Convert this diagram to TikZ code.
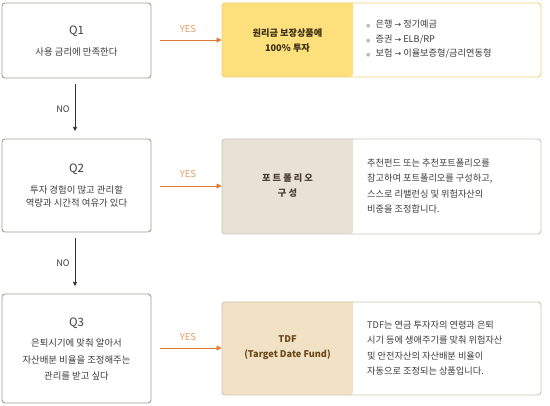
\documentclass[tikz,border=0pt]{standalone}
\usepackage{fontspec}
\setmainfont{Noto Sans CJK KR}
\newfontfamily\symfont{DejaVu Sans}
\usetikzlibrary{arrows.meta,calc}
\definecolor{qgray}{HTML}{A39C94}
\definecolor{txtgray}{HTML}{3C3C3C}
\definecolor{yesorange}{HTML}{E89A62}
\definecolor{arroworange}{HTML}{E07A32}
\definecolor{yelfill}{HTML}{FDE07C}
\definecolor{yelborder}{HTML}{F0CF7A}
\definecolor{begefill}{HTML}{E9E0D6}
\definecolor{begeborder}{HTML}{CFC4B8}
\definecolor{tanfill}{HTML}{F1E2C6}
\definecolor{tanborder}{HTML}{D3C3AC}
\definecolor{headdark}{HTML}{3A2C14}
\definecolor{headgray}{HTML}{4A3C2E}
\definecolor{headbrown}{HTML}{6A4818}
\definecolor{bulletgray}{HTML}{BBBBBB}
\begin{document}
\begin{tikzpicture}[x=1pt,y=-1pt,
  qbox/.style={draw=qgray, line width=0.9pt, rounded corners=3pt, fill=white,
    minimum width=149pt, inner sep=0pt},
  resbox/.style={line width=0.9pt, rounded corners=3pt, fill=white,
    minimum width=319pt, inner sep=0pt},
  qlabel/.style={font=\fontsize{11.5}{13}\selectfont, text=txtgray},
  qtext/.style={font=\fontsize{9.4}{13}\selectfont, text=txtgray, align=center, inner sep=0pt},
  rtext/.style={font=\fontsize{9.2}{15.3}\selectfont, text=txtgray, align=left, inner sep=0pt, anchor=west},
  headtext/.style={font=\fontsize{9.2}{15}\bfseries\selectfont, align=center, inner sep=0pt},
  yesarrow/.style={draw=arroworange, line width=0.8pt, -{Triangle[length=5pt,width=5pt]}},
  noarrow/.style={draw=black!80, line width=0.6pt, -{Triangle[length=4pt,width=4pt]}},
  yeslabel/.style={font=\fontsize{9.5}{11}\selectfont, text=yesorange},
  nolabel/.style={font=\fontsize{9}{10}\selectfont, text=txtgray},
]
\useasboundingbox (0,0) rectangle (550,406);

% Question boxes
\node[qbox, minimum height=75pt] (q1) at (76.5,40.5) {};
\node[qbox, minimum height=93pt] (q2) at (76.5,185.5) {};
\node[qbox, minimum height=109pt] (q3) at (76.5,348.5) {};

\node[qlabel] (q1l) at (76.5,31) {Q1};
\node[qtext] (q1t) at (76.5,52) {사용 금리에 만족한다};
\node[qlabel] (q2l) at (76.5,169) {Q2};
\node[qtext] (q2t) at (76.5,196.5) {투자 경험이 많고 관리할\\역량과 시간적 여유가 있다};
\node[qlabel] (q3l) at (76.5,323) {Q3};
\node[qtext, font=\fontsize{9.4}{16.5}\selectfont] (q3t) at (76.5,359.5) {은퇴시기에 맞춰 알아서\\자산배분 비율을 조정해주는\\관리를 받고 싶다};

% Result boxes
\node[resbox, draw=yelborder, minimum height=74pt,
  path picture={\fill[yelfill] (path picture bounding box.south west) rectangle ++(131pt,100pt);}] (r1) at (381.5,40) {};
\node[resbox, draw=begeborder, minimum height=95pt,
  path picture={\fill[begefill] (path picture bounding box.south west) rectangle ++(131pt,120pt);}] (r2) at (381.5,186.5) {};
\node[resbox, draw=tanborder, minimum height=93pt,
  path picture={\fill[tanfill] (path picture bounding box.south west) rectangle ++(131pt,120pt);}] (r3) at (381.5,348.5) {};

% headings
\node[headtext, text=headdark] (h1) at (287.5,40.5) {원리금 보장상품에\\100\% 투자};
\node[headtext, text=headgray] (h2) at (287.5,186) {포 트 폴 리 오\\구 성};
\node[headtext, text=headbrown] (h3) at (287.5,348) {TDF\\(Target Date Fund)};

% descriptions
\node[rtext, font=\fontsize{9.2}{14.5}\selectfont] (d1) at (366,39.5) {%
  {\color{bulletgray}\symfont\fontsize{5}{5}\selectfont●}\hspace{5pt}은행 {\symfont\fontsize{8}{8}\selectfont→} 정기예금\\
  {\color{bulletgray}\symfont\fontsize{5}{5}\selectfont●}\hspace{5pt}증권 {\symfont\fontsize{8}{8}\selectfont→} ELB/RP\\
  {\color{bulletgray}\symfont\fontsize{5}{5}\selectfont●}\hspace{5pt}보험 {\symfont\fontsize{8}{8}\selectfont→} 이율보증형/금리연동형};
\node[rtext] (d2) at (367,186) {추천펀드 또는 추천포트폴리오를\\참고하여 포트폴리오를 구성하고,\\스스로 리밸런싱 및 위험자산의\\비중을 조정합니다.};
\node[rtext, font=\fontsize{9.2}{15.6}\selectfont] (d3) at (367,348) {TDF는 연금 투자자의 연령과 은퇴\\시기 등에 생애주기를 맞춰 위험자산\\및 안전자산의 자산배분 비율이\\자동으로 조정되는 상품입니다.};

% YES connectors
\coordinate (y1s) at (160,40);
\coordinate (y2s) at (160,186);
\coordinate (y3s) at (160,348);
\draw[yesarrow] (y1s) -- (y1s -| r1.west);
\draw[yesarrow] (y2s) -- (y2s -| r2.west);
\draw[yesarrow] (y3s) -- (y3s -| r3.west);
\node[yeslabel] (yes1) at (188,29) {YES};
\node[yeslabel] (yes2) at (188,174) {YES};
\node[yeslabel] (yes3) at (188,337) {YES};

% NO connectors
\coordinate (n1s) at (75,84);
\coordinate (n1e) at (75,131);
\coordinate (n2s) at (75,238);
\coordinate (n2e) at (75,286);
\draw[noarrow] (n1s) -- (n1e);
\draw[noarrow] (n2s) -- (n2e);
\node[nolabel] (no1) at (63,109) {NO};
\node[nolabel] (no2) at (63,263) {NO};
\end{tikzpicture}
\end{document}
